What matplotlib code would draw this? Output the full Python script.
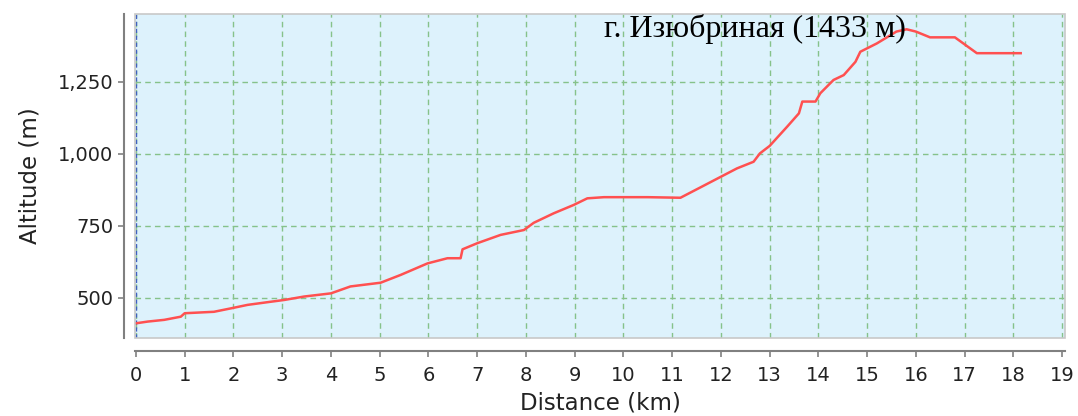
import matplotlib
matplotlib.use("Agg")
import matplotlib.pyplot as plt
from matplotlib.patches import Rectangle

# elevation profile
dist_km = [0.00, 0.24, 0.58, 0.92, 1.00, 1.60, 1.95, 2.29, 2.77, 3.04, 3.45, 4.00,
           4.40, 5.02, 5.43, 5.98, 6.39, 6.66, 6.70, 7.00, 7.48, 7.96, 8.16, 8.57,
           8.98, 9.26, 9.60, 10.00, 10.50, 11.17, 11.58, 12.00, 12.33, 12.67, 12.80,
           13.00, 13.36, 13.60, 13.67, 13.94, 14.04, 14.31, 14.52, 14.76, 14.86,
           15.20, 15.60, 15.81, 16.00, 16.29, 16.80, 17.25, 18.15]
alt_m = [412, 418, 424, 435, 447, 452, 464, 476, 487, 493, 505, 516,
         540, 553, 580, 620, 638, 638, 669, 690, 719, 736, 761, 794,
         823, 846, 850, 850, 850, 848, 884, 921, 950, 973, 1002,
         1028, 1095, 1141, 1182, 1182, 1211, 1257, 1274, 1320, 1355,
         1384, 1425, 1433, 1425, 1405, 1405, 1350, 1350]

peak_label = "г. Изюбриная (1433 м)"
x_ticks = list(range(0, 20))
y_ticks = [500, 750, 1000, 1250]

fig = plt.figure(figsize=(10.78, 4.16), dpi=100)
ax = fig.add_axes([0.1252, 0.1875, 0.8628, 0.7788])
ax.set_facecolor("#ddf2fc")

ax.plot(dist_km, alt_m, color="#ff5050", lw=1.8, zorder=3)
ax.axvline(0, color="#4060c0", lw=1, ls=(0, (3, 2)), zorder=2)

ax.set_xlim(-0.02, 19.06)
ax.set_ylim(361, 1486)
ax.set_xticks(x_ticks)
ax.set_yticks(y_ticks)
ax.set_yticklabels([f"{v:,}" for v in y_ticks])

ax.grid(True, color="#86c28a", ls=(0, (4, 3)), lw=1)
ax.set_axisbelow(True)

# JFreeChart-like detached axes
for s in ["top", "right"]:
    ax.spines[s].set_visible(False)
ax.spines["left"].set_position(("outward", 8))
ax.spines["bottom"].set_position(("outward", 9))
for s in ["left", "bottom"]:
    ax.spines[s].set_color("#808080")
    ax.spines[s].set_linewidth(1.5)
ax.add_patch(Rectangle((0, 0), 1, 1, transform=ax.transAxes, fill=False,
                       edgecolor="#c8c8c8", lw=1.2, zorder=4, clip_on=False))

ax.tick_params(axis="both", colors="#808080", labelcolor="#222222",
               labelsize=14, length=4, width=1.2)
ax.tick_params(axis="x", pad=7)

ax.set_xlabel("Distance (km)", fontsize=16.5, color="#222222", labelpad=5)
ax.set_ylabel("Altitude (m)", fontsize=16.5, color="#222222", labelpad=12)

ax.text(15.8, 1406, peak_label, ha="right", va="baseline",
        family="Liberation Serif", fontsize=23, color="black", zorder=5)

fig.savefig("out.png", dpi=100)
